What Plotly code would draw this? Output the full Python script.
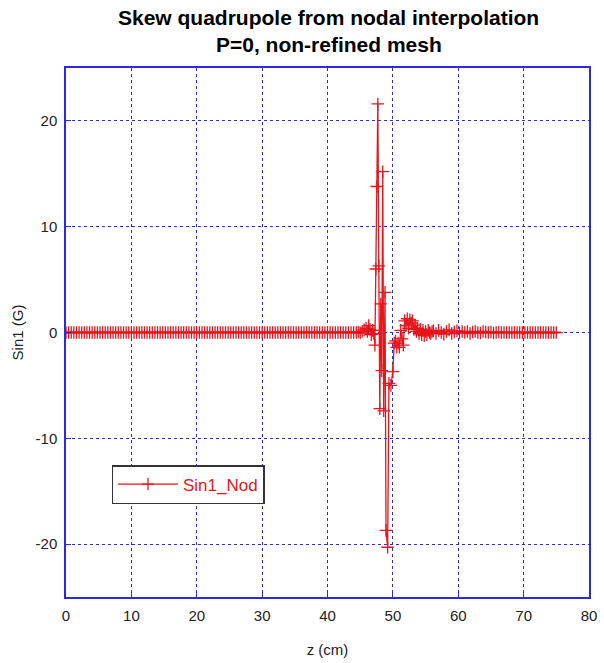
import plotly.graph_objects as go

# ---- data ----
# uniform mesh before the magnet region
z_left = [round(0.4 * i, 2) for i in range(111)]          # 0 .. 44.0
v_left = [0.0] * 111

# dense region around the skew quadrupole feature
z_mid = [44.4, 44.7, 45.0, 45.3, 45.6, 45.9, 46.1, 46.3, 46.5, 46.7, 46.9, 47.1,
         47.25, 47.4, 47.55, 47.7, 47.85, 48.0, 48.15, 48.3, 48.45, 48.6, 48.8,
         48.95, 49.2, 49.4, 49.7, 50.0, 50.2, 50.4, 50.6, 50.8, 51.0, 51.2, 51.4,
         51.6, 51.8, 52.0, 52.2, 52.4, 52.6, 52.8, 53.0, 53.2, 53.4, 53.6, 53.8,
         54.0, 54.2, 54.4, 54.6, 54.8, 55.0, 55.2, 55.4, 55.6, 55.8, 56.0]
v_mid = [0.0, 0.05, -0.05, 0.1, 0.25, 0.4, 0.1, 0.65, 0.3, -0.2, 0.2, -0.1,
         -1.2, 6.0, 13.8, 21.6, 6.3, -7.2, 2.7, -3.6, 15.2, -7.4, 3.8,
         -18.7, -20.3, -4.8, -5.0, -3.7, -1.0, -0.8, -1.4, -1.0, -1.4, 0.2, -0.6,
         -1.2, 1.1, 0.65, 1.3, 0.4, 1.2, 0.9, 1.1, 0.3, 0.7, 0.1, 0.4,
         -0.1, 0.3, -0.2, 0.2, -0.3, 0.1, -0.2, 0.2, 0.0, -0.1, 0.1]

# uniform mesh after the feature
z_right = [round(56.2 + 0.4 * i, 2) for i in range(48)]   # 56.2 .. 75.0
v_right = [0.15, -0.1, 0.2, 0.0, -0.15, 0.1, 0.25, -0.1, 0.05, 0.15, -0.05, 0.1,
           0.0, 0.1, -0.1, 0.05, 0.1, 0.0, -0.05, 0.1, 0.05, 0.0, 0.05, -0.05,
           0.0, 0.05, 0.0, 0.0, 0.0, 0.0, 0.0, 0.0, 0.0, 0.0, 0.0, 0.0,
           0.0, 0.0, 0.0, 0.0, 0.0, 0.0, 0.0, 0.0, 0.0, 0.0, 0.0, 0.0]

z = z_left + z_mid + z_right
sin1 = v_left + v_mid + v_right

x_ticks = [0, 10, 20, 30, 40, 50, 60, 70, 80]
x_ticklabels = ["0", "10", "20", "30", "40", "50", "60", "70", "80"]
y_ticks = [-20, -10, 0, 10, 20]
y_ticklabels = ["-20", "-10", "0", "10", "20"]

title_lines = ["Skew quadrupole from nodal interpolation", "P=0, non-refined mesh"]

RED = "#e8141b"
BLUE = "#2828e6"
TXT = "#222222"
FONT = "Liberation Sans, Arial, sans-serif"

fig = go.Figure()
fig.add_trace(go.Scatter(
    x=z, y=sin1, mode="lines+markers", name="Sin1_Nod",
    line=dict(color=RED, width=1.3),
    marker=dict(symbol="cross-thin", size=9, line=dict(color=RED, width=1.3)),
))

axis_common = dict(
    showline=True, linecolor=BLUE, linewidth=1.5, mirror=True,
    showgrid=True, gridcolor=BLUE, griddash="dot", gridwidth=1,
    zeroline=False, ticks="inside", ticklen=5, tickcolor=BLUE,
    tickfont=dict(family=FONT, size=15, color=TXT),
)

fig.update_layout(
    width=604, height=663,
    margin=dict(l=66, r=7, t=68, b=66),
    paper_bgcolor="white", plot_bgcolor="white",
    xaxis=dict(range=[0, 80], tickvals=x_ticks, ticktext=x_ticklabels,
               ticklabelstandoff=4,
               title=dict(text="z (cm)", font=dict(family=FONT, size=15, color=TXT), standoff=22),
               **axis_common),
    yaxis=dict(range=[-25, 25], tickvals=y_ticks, ticktext=y_ticklabels,
               ticklabelstandoff=4,
               title=dict(text="Sin1 (G)", font=dict(family=FONT, size=15, color=TXT), standoff=8),
               **axis_common),
    showlegend=True,
    legend=dict(
        x=0.087, y=0.2495, xanchor="left", yanchor="top",
        bgcolor="white", bordercolor="#333333", borderwidth=1.5,
        font=dict(family=FONT, size=17, color=RED),
        itemwidth=60,
    ),
)

for text, yp in zip(title_lines, [1.0946, 1.0435]):
    fig.add_annotation(
        text="<b>" + text + "</b>", xref="paper", yref="paper",
        x=0.502, y=yp, xanchor="center", yanchor="middle", showarrow=False,
        font=dict(family=FONT, size=21, color="black"),
    )

fig.write_html("out.html")
